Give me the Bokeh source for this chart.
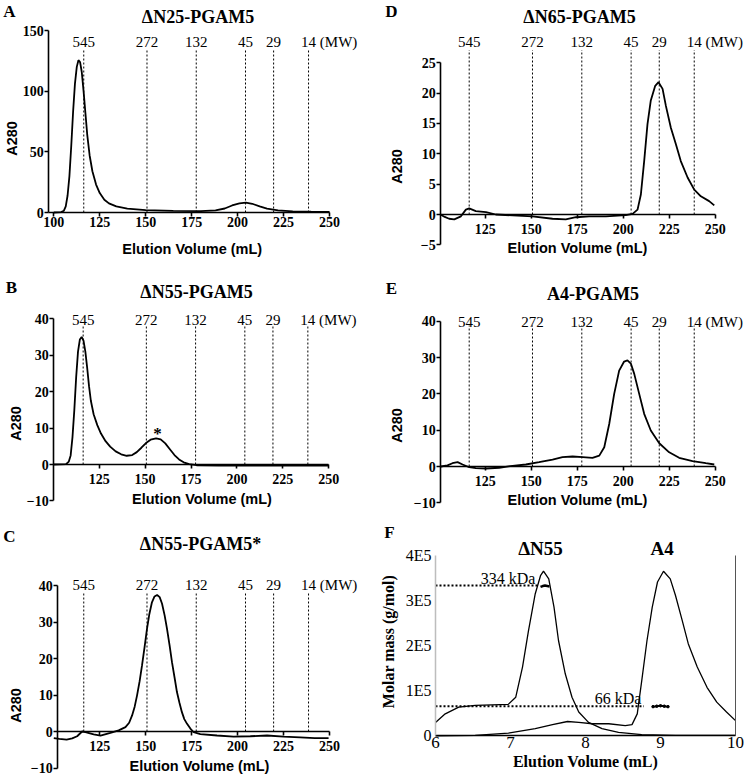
from bokeh.plotting import figure
from bokeh.models import Range1d, Label, FixedTicker, CustomJSTickFormatter, LinearAxis
from bokeh.layouts import column, row
from bokeh.embed import file_html
from bokeh.resources import INLINE

SERIF = "Liberation Serif"
SANS = "Liberation Sans"

# ---------------- data ----------------
MW_VOL = [116.3, 150.7, 177.5, 204.3, 219.6, 238.6]
MW_LABELS = ["545", "272", "132", "45", "29", "14 (MW)"]

A_X = [100, 104, 105.5, 106.5, 107.5, 108.5, 109.5, 110.5, 111.5, 112.5, 113.4, 114.3, 115.2, 116.2,
       117.2, 118.2, 119.5, 121, 123, 125, 127.5, 130, 134, 140, 150, 165, 180, 188, 193, 197, 201,
       204.5, 208, 212, 216, 222, 230, 240, 250]
A_Y = [0, 0.3, 1.5, 5, 14, 30, 55, 83, 106, 120, 125.5, 124, 116, 100,
       82, 64, 47, 34, 23, 16, 10.5, 7.5, 5, 3.2, 2, 1.3, 1.2, 1.8, 3.3, 5.8, 7.6,
       8.2, 7.2, 5, 3.2, 1.8, 1, 0.6, 0.4]

B_X = [100, 107, 108.5, 109.5, 110.5, 111.5, 112.5, 113.5, 114.5, 115.5, 116.5, 117.5, 118.5, 119.5,
       120.5, 122, 124, 126, 128.5, 131, 134, 137, 140, 143, 145.5, 148, 150.5, 153, 156, 158.5,
       161, 163.5, 166, 168.5, 171, 174, 178, 190, 210, 230, 250]
B_Y = [0, 0.1, 0.8, 2.5, 7.5, 15, 24, 31, 34.3, 35, 34, 31, 26.5, 21.5,
       17.5, 13.8, 10.8, 8.5, 6.4, 4.9, 3.6, 2.8, 2.4, 2.6, 3.4, 4.6, 5.9, 6.8, 7.2, 6.9,
       5.8, 4.2, 2.6, 1.4, 0.6, 0.1, -0.2, -0.3, -0.3, -0.3, -0.3]

C_X = [100, 103, 107, 110, 112.7, 115.4, 117.2, 121.7, 125.4, 130.8, 135.3, 139, 141, 142.6, 144,
       145.3, 146.7, 148, 149.4, 150.7, 152, 153.4, 154.8, 156.2, 157.6, 158.9, 160.3, 161.6, 163,
       164.3, 165.7, 167, 168.4, 169.7, 171, 172.5, 174.3, 176.1, 179.7, 188.8, 197.8, 206.9, 216,
       225, 234, 242, 249.5]
C_Y = [-1.8, -2.0, -2.2, -1.9, -1.3, 0, -0.2, -0.8, -1.1, -0.4, 0.3, 1.2, 2.4, 4.4, 6.8,
       9.9, 13.8, 18.1, 23.2, 28.1, 32.2, 35.4, 37.0, 37.4, 36.8, 35, 31.8, 28.1, 23.6,
       19, 14.8, 10.8, 7.8, 5.3, 3.4, 2.1, 0.8, -0.2, -0.7, -1.1, -1.4, -1.3, -1.1,
       -1.4, -1.6, -1.8, -1.8]

D_X = [100.7, 103, 105.4, 108.2, 111.8, 114.5, 116.3, 119.9, 125.4, 130.8, 139.9, 150.7, 161.6,
       168.8, 174.3, 181.5, 190.6, 201.4, 205.1, 207.8, 209.6, 211.4, 213.2, 215, 217.4, 219.2,
       221.4, 223.2, 225.9, 228.6, 231.3, 235, 238.6, 242.2, 246.7, 249.5]
D_Y = [0, -0.4, -0.7, -0.8, -0.3, 0.8, 1.0, 0.55, 0.4, 0, -0.15, -0.3, -0.7,
       -0.8, -0.45, -0.3, -0.3, -0.1, 0.1, 0.8, 3.3, 8.8, 14.9, 18.8, 21.2, 21.8,
       20.7, 17.9, 14.3, 11.6, 8.8, 6.1, 4.1, 3.0, 2.2, 1.5]

E_X = [100.9, 104.5, 107.2, 110, 112.7, 116.3, 119.9, 125.4, 132.6, 139.9, 147.1, 154.3, 161.6,
       167, 172.5, 177.9, 183.3, 187, 189.7, 192.4, 195.1, 197.8, 200.5, 202.3, 204.2, 206, 208.7,
       211.4, 215, 219.6, 225, 230.4, 237.7, 244.9, 249.5]
E_Y = [0, 0.3, 0.9, 1.2, 0.55, -0.2, -0.45, -0.55, -0.35, 0.2, 0.55, 1.2, 1.9,
       2.6, 2.75, 2.6, 2.4, 3.0, 5.3, 11.7, 20, 26.4, 28.9, 29.2, 28.3, 25.5, 20,
       14.5, 9.9, 6.4, 3.9, 2.4, 1.5, 0.9, 0.55]

# panel F (molar mass in units of 1E5 g/mol)
F_DN55_X = [6.0, 6.13, 6.31, 6.53, 6.75, 6.97, 7.07, 7.16, 7.24, 7.33, 7.4, 7.44, 7.51, 7.58, 7.64,
            7.73, 7.82, 7.91, 8.04, 8.22, 8.44, 8.75, 9.2, 9.6, 10.0]
F_DN55_Y = [0.30, 0.49, 0.64, 0.68, 0.69, 0.70, 0.86, 1.53, 2.34, 3.16, 3.56, 3.66, 3.49, 2.86, 2.12,
            1.38, 0.86, 0.53, 0.30, 0.16, 0.08, 0.03, 0.01, 0.01, 0.01]
F_A4_X = [6.0, 6.53, 6.97, 7.33, 7.56, 7.76, 7.91, 8.09, 8.31, 8.53, 8.62, 8.69, 8.75, 8.82, 8.89,
          8.96, 9.04, 9.13, 9.2, 9.29, 9.37, 9.49, 9.62, 9.75, 9.88, 10.0]
F_A4_Y = [0.0, 0.01, 0.06, 0.16, 0.25, 0.32, 0.30, 0.27, 0.27, 0.23, 0.25, 0.49, 1.23, 2.12, 2.86,
          3.42, 3.66, 3.49, 3.12, 2.56, 2.05, 1.53, 1.08, 0.75, 0.53, 0.34]
MM_DN55_X = [7.40, 7.43, 7.46, 7.49, 7.52]
MM_DN55_Y = [3.31, 3.33, 3.34, 3.33, 3.32]
MM_A4_X = [8.90, 8.95, 9.00, 9.05, 9.10]
MM_A4_Y = [0.65, 0.66, 0.67, 0.66, 0.65]
MM_LEVEL = [3.34, 0.66]
MM_LEVEL_END = [7.37, 8.78]
MM_TEXT = ["334 kDa", "66 kDa"]

# ---------------- layout helpers ----------------
COLX = [0, 372]
ROWY = [0, 260, 515]
WID = [372, 372]
HGT = [260, 255, 260]


def make_panel(c, r, xa, ya):
    """Frame covers the whole canvas; xa/ya anchor data values to reference pixels."""
    ox, oy = COLX[c], ROWY[r]
    W, H = WID[c], HGT[r]
    sx = (xa[3] - xa[1]) / (xa[2] - xa[0])
    sy = (ya[1] - ya[3]) / (ya[2] - ya[0])
    px1 = xa[1] - ox
    py1 = ya[1] - oy
    x0 = xa[0] + (0 - px1) / sx
    x1 = xa[0] + (W - px1) / sx
    y0 = ya[0] - (H - py1) / sy
    y1 = ya[0] + (py1 - 0) / sy
    p = figure(width=W, height=H, x_range=Range1d(x0, x1), y_range=Range1d(y0, y1),
               min_border=0, min_border_left=0, min_border_right=0, min_border_top=0,
               min_border_bottom=0, toolbar_location=None, output_backend="svg")
    p.title.visible = False
    p.xgrid.visible = False
    p.ygrid.visible = False
    p.outline_line_color = None
    p.background_fill_color = "white"
    p.border_fill_color = "white"

    def to_data(rx, ry):
        return xa[0] + (rx - xa[1]) / sx, ya[0] + (ya[1] - ry) / sy
    return p, to_data


def text(p, to_data, rx, ry, s, size, font=SERIF, bold=False, align="center", angle=0.0,
         x_offset=0):
    x, y = to_data(rx, ry)
    p.add_layout(Label(x=x, y=y, text=s, text_font=font, text_font_size=f"{size}px",
                       text_font_style="bold" if bold else "normal", text_align=align,
                       text_baseline="middle", angle=angle, text_color="black",
                       x_offset=x_offset))


def style_axis(ax, loc, bounds, ticks, size=14, bold=True, standoff=2, tick_out=4, lw=1.6,
               color="black"):
    ax.fixed_location = loc
    ax.bounds = bounds
    ax.ticker = FixedTicker(ticks=ticks)
    ax.axis_line_width = lw
    ax.axis_line_color = color
    ax.major_tick_line_width = lw
    ax.major_tick_line_color = color if tick_out > 0 else None
    ax.major_tick_out = tick_out
    ax.major_tick_in = 0
    ax.minor_tick_line_color = None
    ax.major_label_text_font = SERIF
    ax.major_label_text_font_style = "bold" if bold else "normal"
    ax.major_label_text_font_size = f"{size}px"
    ax.major_label_text_color = "black"
    ax.major_label_standoff = standoff


def sec_panel(c, r, xa, ya, spine_rx, xticks, yticks, ybounds, xs, ys, title, title_pos,
              letter, letter_pos, mw_ry, mw_top, ytitle_pos, xtitle_pos, x_standoff):
    p, td = make_panel(c, r, xa, ya)
    spine_x = td(spine_rx, 0)[0]
    style_axis(p.xaxis[0], 0, (spine_x, 250), xticks, standoff=x_standoff)
    style_axis(p.yaxis[0], spine_x, ybounds, yticks, standoff=1)
    # MW reference lines
    p.segment(x0=MW_VOL, y0=[0] * len(MW_VOL), x1=MW_VOL, y1=[mw_top] * len(MW_VOL),
              line_color="black", line_width=1, line_dash="2 2")
    p.line(xs, ys, line_color="black", line_width=1.8)
    mw_y = td(0, mw_ry)[1]
    for v, s in zip(MW_VOL, MW_LABELS):
        if s.startswith("14"):
            p.add_layout(Label(x=v, y=mw_y, text=s, text_font=SERIF, text_font_size="15px",
                               text_align="left", text_baseline="middle", x_offset=-7.5,
                               text_color="black"))
        else:
            p.add_layout(Label(x=v, y=mw_y, text=s, text_font=SERIF, text_font_size="15px",
                               text_align="center", text_baseline="middle", text_color="black"))
    text(p, td, title_pos[0], title_pos[1], title, 18, bold=True)
    text(p, td, letter_pos[0], letter_pos[1], letter, 17, bold=True)
    text(p, td, ytitle_pos[0], ytitle_pos[1], "A280", 14.5, font=SANS, bold=True,
         angle=1.5707963)
    text(p, td, xtitle_pos[0], xtitle_pos[1], "Elution Volume (mL)", 14.5, font=SANS, bold=True)
    return p, td


X_TICKS_A = [100, 125, 150, 175, 200, 225, 250]
X_TICKS = [125, 150, 175, 200, 225, 250]
Y_TICKS_A = [0, 50, 100, 150]
Y_TICKS_BCE = [-10, 0, 10, 20, 30, 40]
Y_TICKS_D = [-5, 0, 5, 10, 15, 20, 25]

pA, _ = sec_panel(0, 0, (100, 53.3, 250, 329), (0, 212, 150, 30), 48.3,
                  X_TICKS_A, Y_TICKS_A, (0, 150), A_X, A_Y, "\u0394N25-PGAM5", (197.5, 16.5),
                  "A", (9, 11), 41, 134, (11, 138), (191.7, 248), 0)
pD, _ = sec_panel(1, 0, (100, 438.7, 250, 714.7), (0, 214, 25, 62.3), 440.3,
                  X_TICKS, Y_TICKS_D, (-5, 25), D_X, D_Y, "\u0394N65-PGAM5", (579, 16.5),
                  "D", (391, 10.5), 41, 27.1, (396, 166), (577, 247.5), 5)
pB, tdB = sec_panel(0, 1, (100, 52.7, 250, 328.3), (0, 464, 40, 318.3), 53.3,
                    X_TICKS, Y_TICKS_BCE, (-10, 40), B_X, B_Y, "\u0394N55-PGAM5", (196, 291.5),
                    "B", (11, 287), 319, 38.2, (15, 423), (201.5, 498.5), 5)
text(pB, tdB, 157, 433, "*", 17, bold=True)
pE, _ = sec_panel(1, 1, (100, 438.7, 250, 714.7), (0, 466, 40, 320.7), 440.3,
                  X_TICKS, Y_TICKS_BCE, (-10, 40), E_X, E_Y, "A4-PGAM5", (592.5, 293.5),
                  "E", (391, 287.5), 321, 38.8, (396, 425), (577, 499.5), 5)
pC, _ = sec_panel(0, 2, (100, 53.3, 250, 329), (0, 731, 40, 585), 57.3,
                  X_TICKS, Y_TICKS_BCE, (-10, 40), C_X, C_Y, "\u0394N55-PGAM5*", (200, 543.5),
                  "C", (9, 536), 584, 38.0, (15, 705), (199, 765), 5)

# ---------------- panel F ----------------
pF, tdF = make_panel(1, 2, (6, 435, 10, 735), (0, 735.4, 4, 555.4))
style_axis(pF.xaxis[0], 0, (6, 10), [6, 7, 8, 9, 10], size=17, bold=False, standoff=1,
           tick_out=0, lw=1.3)
style_axis(pF.yaxis[0], 6, (0, 4), [0, 1, 2, 3, 4], size=16, bold=False, standoff=4,
           tick_out=0, lw=1.5, color="#bdbdbd")
pF.yaxis[0].formatter = CustomJSTickFormatter(code="return tick == 0 ? '0' : tick.toFixed(0) + 'E5';")
right = LinearAxis(fixed_location=10, bounds=(0, 4), ticker=FixedTicker(ticks=[]),
                   axis_line_color="#555555", axis_line_width=1, major_tick_line_color=None,
                   minor_tick_line_color=None, major_label_text_color=None)
pF.add_layout(right, "right")
pF.segment(x0=[6, 6], y0=MM_LEVEL, x1=MM_LEVEL_END, y1=MM_LEVEL, line_color="black",
           line_width=2, line_dash="2 2")
pF.line(F_DN55_X, F_DN55_Y, line_color="black", line_width=1.3)
pF.line(F_A4_X, F_A4_Y, line_color="black", line_width=1.3)
pF.line(MM_DN55_X, MM_DN55_Y, line_color="black", line_width=2.5)
pF.scatter(MM_A4_X, MM_A4_Y, size=2.5, color="black")
pF.line(MM_A4_X, MM_A4_Y, line_color="black", line_width=2)
text(pF, tdF, 507.5, 578.3, MM_TEXT[0], 16)
text(pF, tdF, 617.5, 698.3, MM_TEXT[1], 16)
text(pF, tdF, 540, 547.5, "\u0394N55", 19, bold=True)
text(pF, tdF, 661.7, 547.5, "A4", 19, bold=True)
text(pF, tdF, 389, 531.5, "F", 17, bold=True)
text(pF, tdF, 388, 641, "Molar mass (g/mol)", 16, bold=True, angle=1.5707963)
text(pF, tdF, 585, 760.5, "Elution Volume (mL)", 16, bold=True)

layout = column(row(pA, pD), row(pB, pE), row(pC, pF))
open("out.html", "w").write(file_html(layout, INLINE))
